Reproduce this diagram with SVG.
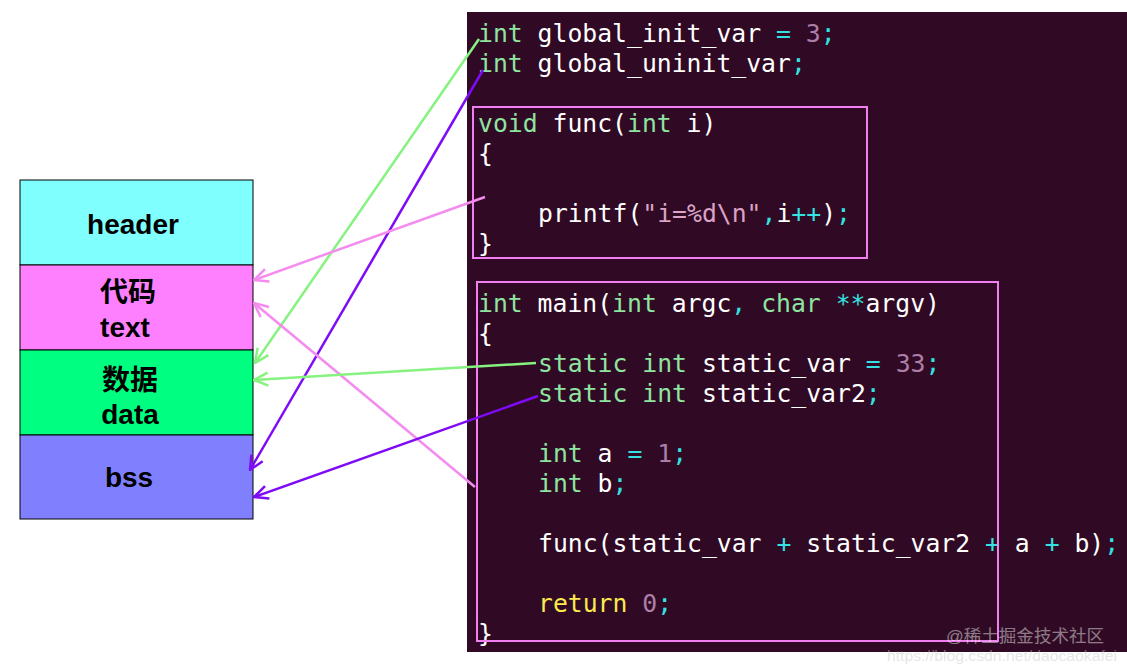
<svg xmlns="http://www.w3.org/2000/svg" width="1127" height="671" viewBox="0 0 1127 671">
<defs>
<style>
.seg{stroke:#000;stroke-width:1}
.lbl{font-family:"Liberation Sans",Arial,"Noto Sans CJK SC",sans-serif;font-weight:bold;font-size:28px;fill:#000;text-anchor:middle}
.code{font-family:"DejaVu Sans Mono","Liberation Mono",monospace;font-size:24.75px;fill:#ffffff;white-space:pre}
.k{fill:#8ee5a0}.n{fill:#ad7fa8}.o{fill:#34e2e2}.y{fill:#fce94f}.s{fill:#dba3c6}
.fbox{fill:none;stroke:#f080f0;stroke-width:2}
.ln{fill:none;stroke-width:2.5}
.g{stroke:#86f27f}.p{stroke:#7f0af5}.m{stroke:#f48cf0}
.wm{font-family:"Liberation Sans","Noto Sans CJK SC",sans-serif;fill:#ffffff;opacity:0.45}
</style>
<marker id="ag" markerUnits="userSpaceOnUse" viewBox="0 0 16 16" refX="15" refY="8" markerWidth="16" markerHeight="16" orient="auto"><path d="M1,1.5 L15,8 L1,14.5" fill="none" stroke="#86f27f" stroke-width="2.5"/></marker>
<marker id="ap" markerUnits="userSpaceOnUse" viewBox="0 0 16 16" refX="15" refY="8" markerWidth="16" markerHeight="16" orient="auto"><path d="M1,1.5 L15,8 L1,14.5" fill="none" stroke="#7f0af5" stroke-width="2.5"/></marker>
<marker id="am" markerUnits="userSpaceOnUse" viewBox="0 0 16 16" refX="15" refY="8" markerWidth="16" markerHeight="16" orient="auto"><path d="M1,1.5 L15,8 L1,14.5" fill="none" stroke="#f48cf0" stroke-width="2.5"/></marker>
</defs>
<rect x="0" y="0" width="1127" height="671" fill="#ffffff"/>

<g id="code-panel">
<rect x="467" y="12" width="660" height="640" fill="#300a24"/>
<text class="code" x="478" y="42" xml:space="preserve"><tspan class="k">int</tspan> global_init_var <tspan class="o">=</tspan> <tspan class="n">3</tspan><tspan class="o">;</tspan></text>
<text class="code" x="478" y="72" xml:space="preserve"><tspan class="k">int</tspan> global_uninit_var<tspan class="o">;</tspan></text>
<text class="code" x="478" y="132" xml:space="preserve"><tspan class="k">void</tspan> func(<tspan class="k">int</tspan> i)</text>
<text class="code" x="478" y="162" xml:space="preserve">{</text>
<text class="code" x="538" y="222" xml:space="preserve">printf(<tspan class="s">"i=%d\n"</tspan><tspan class="o">,</tspan>i<tspan class="o">++</tspan>)<tspan class="o">;</tspan></text>
<text class="code" x="478" y="252" xml:space="preserve">}</text>
<text class="code" x="478" y="312" xml:space="preserve"><tspan class="k">int</tspan> main(<tspan class="k">int</tspan> argc<tspan class="o">,</tspan> <tspan class="k">char</tspan> <tspan class="o">**</tspan>argv)</text>
<text class="code" x="478" y="342" xml:space="preserve">{</text>
<text class="code" x="538" y="372" xml:space="preserve"><tspan class="k">static</tspan> <tspan class="k">int</tspan> static_var <tspan class="o">=</tspan> <tspan class="n">33</tspan><tspan class="o">;</tspan></text>
<text class="code" x="538" y="402" xml:space="preserve"><tspan class="k">static</tspan> <tspan class="k">int</tspan> static_var2<tspan class="o">;</tspan></text>
<text class="code" x="538" y="462" xml:space="preserve"><tspan class="k">int</tspan> a <tspan class="o">=</tspan> <tspan class="n">1</tspan><tspan class="o">;</tspan></text>
<text class="code" x="538" y="492" xml:space="preserve"><tspan class="k">int</tspan> b<tspan class="o">;</tspan></text>
<text class="code" x="538" y="552" xml:space="preserve">func(static_var <tspan class="o">+</tspan> static_var2 <tspan class="o">+</tspan> a <tspan class="o">+</tspan> b)<tspan class="o">;</tspan></text>
<text class="code" x="538" y="612" xml:space="preserve"><tspan class="y">return</tspan> <tspan class="n">0</tspan><tspan class="o">;</tspan></text>
<text class="code" x="478" y="642" xml:space="preserve">}</text>
</g>

<g id="func-box"><rect class="fbox" x="473" y="107" width="394" height="151"/></g>
<g id="main-box"><rect class="fbox" x="477" y="282" width="521" height="359"/></g>

<g id="header"><rect class="seg" x="20" y="180" width="233" height="85" fill="#80ffff"/><text class="lbl" x="133" y="234">header</text></g>
<g id="text"><rect class="seg" x="20" y="265" width="233" height="85" fill="#ff80ff"/><text class="lbl" x="128" y="302">代码</text><text class="lbl" x="125" y="337">text</text></g>
<g id="data"><rect class="seg" x="20" y="350" width="233" height="85" fill="#00ff80"/><text class="lbl" x="130" y="390">数据</text><text class="lbl" x="130" y="424">data</text></g>
<g id="bss"><rect class="seg" x="20" y="435" width="233" height="84" fill="#8080ff"/><text class="lbl" x="129" y="487">bss</text></g>

<g id="connectors">
<line class="ln g" x1="479" y1="39" x2="255" y2="363" marker-end="url(#ag)"/>
<line class="ln p" x1="483" y1="70" x2="250" y2="470" marker-end="url(#ap)"/>
<line class="ln m" x1="485" y1="197" x2="254" y2="280" marker-end="url(#am)"/>
<line class="ln m" x1="475" y1="487" x2="254" y2="303" marker-end="url(#am)"/>
<line class="ln g" x1="536" y1="363" x2="254" y2="380" marker-end="url(#ag)"/>
<line class="ln p" x1="538" y1="396" x2="254" y2="497" marker-end="url(#ap)"/>
</g>

<g id="watermark">
<text class="wm" x="946" y="642" font-size="17" textLength="158" lengthAdjust="spacingAndGlyphs">@稀土掘金技术社区</text>
<text class="wm" x="887" y="661" font-size="14" textLength="230" lengthAdjust="spacingAndGlyphs" style="fill:#c8c8c8">https://blog.csdn.net/daocaokafei</text>
</g>
</svg>
